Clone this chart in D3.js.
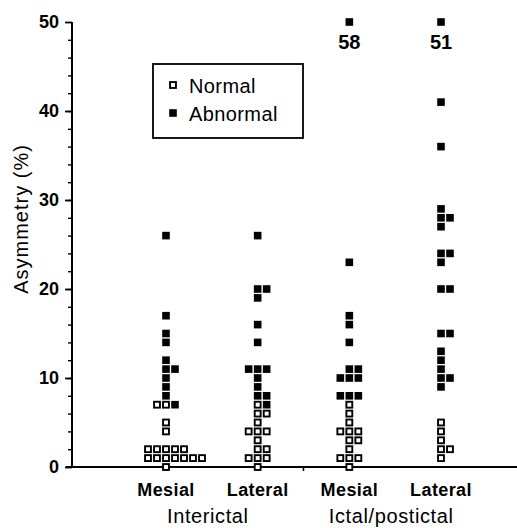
<!DOCTYPE html>
<html>
<head>
<meta charset="utf-8">
<script src="https://cdn.jsdelivr.net/npm/d3@7"></script>
<style>
  body { margin: 0; background: #fff; }
  svg { display: block; font-family: "Liberation Sans", Arial, sans-serif; }
</style>
</head>
<body>
<div id="chart"></div>
<script>
// Category labels along the x axis and the two groups under them
const categories = ["Mesial", "Lateral", "Mesial ", "Lateral "];
const groupNames = ["Interictal", "Ictal/postictal"];
const yTicks = [0, 10, 20, 30, 40, 50];

// Asymmetry (%) values, one array per column
const normalInterMesial = [7, 7, 5, 4, 2, 2, 2, 2, 2, 1, 1, 1, 1, 1, 1, 1, 0];
const abnormalInterMesial = [26, 17, 15, 14, 12, 11, 11, 10, 9, 8, 7];
const normalInterLateral = [7, 6, 6, 5, 4, 4, 4, 3, 2, 2, 1, 1, 1, 0];
const abnormalInterLateral = [26, 20, 20, 19, 16, 14, 11, 11, 11, 10, 9, 8, 8, 7];
const normalIctalMesial = [7, 6, 5, 4, 4, 4, 3, 3, 2, 1, 1, 1, 0];
const abnormalIctalMesial = [58, 23, 17, 16, 14, 11, 11, 10, 10, 10, 8, 8, 8];
const normalIctalLateral = [5, 4, 3, 2, 2, 1];
const abnormalIctalLateral = [51, 41, 36, 29, 28, 28, 27, 24, 24, 23, 20, 20, 15, 15, 13, 12, 11, 10, 10, 9];

const columns = [
  { cat: categories[0], normal: normalInterMesial, abnormal: abnormalInterMesial },
  { cat: categories[1], normal: normalInterLateral, abnormal: abnormalInterLateral },
  { cat: categories[2], normal: normalIctalMesial, abnormal: abnormalIctalMesial },
  { cat: categories[3], normal: normalIctalLateral, abnormal: abnormalIctalLateral },
];

const width = 517, height = 528;
const yMax = 50;

const svg = d3.select("#chart").append("svg")
  .attr("width", width)
  .attr("height", height);

const x = d3.scalePoint().domain(categories).range([166, 441]);
const y = d3.scaleLinear().domain([0, yMax]).range([467, 22]);
// side-by-side slot for squares sharing a value
const slot = d3.scaleLinear().domain([0, 1]).range([0, 9]);

// Build the dot layout: squares with the same value sit in a row, normals first
const points = [];
columns.forEach((col) => {
  const entries = col.normal.map((v) => ({ v, type: "normal" }))
    .concat(col.abnormal.map((v) => ({ v, type: "abnormal" })));
  const rows = d3.group(entries, (d) => d.v);
  rows.forEach((row) => {
    const n = row.length;
    const start = Math.max(-2, -Math.floor((n - 1) / 2));
    row.forEach((d, i) => {
      points.push({ cat: col.cat, v: d.v, type: d.type, offset: start + i });
    });
  });
});

// Axes
const yAxis = svg.append("g")
  .attr("transform", `translate(72,0)`)
  .call(d3.axisLeft(y).tickValues(yTicks).tickSize(7).tickPadding(6));
yAxis.select(".domain").remove();
yAxis.selectAll(".tick line").attr("stroke-width", 1.8);
yAxis.selectAll(".tick text")
  .attr("font-size", 18)
  .attr("font-weight", "bold")
  .attr("fill", "#000");

const minor = svg.append("g")
  .attr("transform", `translate(72,0)`)
  .call(d3.axisLeft(y).tickValues(d3.range(2, 50, 2)).tickSize(4).tickFormat(""));
minor.select(".domain").remove();
minor.selectAll(".tick line").attr("stroke-width", 1.4);

svg.append("line")
  .attr("x1", 72).attr("x2", 72)
  .attr("y1", y(yMax)).attr("y2", y(0))
  .attr("stroke", "#000").attr("stroke-width", 2);

svg.append("line")
  .attr("x1", 66).attr("x2", width)
  .attr("y1", y(0)).attr("y2", y(0))
  .attr("stroke", "#000").attr("stroke-width", 2);

// small divider tick between the two groups
const mid = (x(categories[1]) + x(categories[2])) / 2;
svg.append("line")
  .attr("x1", mid).attr("x2", mid)
  .attr("y1", y(0)).attr("y2", y(0) + 4)
  .attr("stroke", "#000").attr("stroke-width", 1.5);

svg.append("g")
  .selectAll("text")
  .data(categories)
  .enter()
  .append("text")
  .attr("x", (d) => x(d))
  .attr("y", 496)
  .attr("text-anchor", "middle")
  .attr("font-size", 18)
  .attr("font-weight", "bold")
  .attr("letter-spacing", 0.4)
  .text((d) => d.trim());

svg.append("g")
  .selectAll("text")
  .data(groupNames)
  .enter()
  .append("text")
  .attr("x", (d, i) => (x(categories[i * 2]) + x(categories[i * 2 + 1])) / 2 - 4)
  .attr("y", 523)
  .attr("text-anchor", "middle")
  .attr("font-size", 20)
  .attr("letter-spacing", 0.6)
  .text((d) => d);

svg.append("text")
  .attr("transform", `translate(28,219) rotate(-90)`)
  .attr("text-anchor", "middle")
  .attr("font-size", 20)
  .attr("letter-spacing", 1)
  .text("Asymmetry (%)");

// Squares
const size = 7.6;
const inset = 0.85;
svg.append("g")
  .selectAll("rect")
  .data(points)
  .enter()
  .append("rect")
  .attr("x", (d) => x(d.cat) + slot(d.offset) - size / 2 + (d.type === "normal" ? inset : 0))
  .attr("y", (d) => y(Math.min(d.v, yMax)) - size / 2 + (d.type === "normal" ? inset : 0))
  .attr("width", (d) => (d.type === "normal" ? size - 2 * inset : size))
  .attr("height", (d) => (d.type === "normal" ? size - 2 * inset : size))
  .attr("fill", (d) => (d.type === "normal" ? "#fff" : "#000"))
  .attr("stroke", (d) => (d.type === "normal" ? "#000" : "none"))
  .attr("stroke-width", 1.9);

// Off-scale values written under the capped squares
svg.append("g")
  .selectAll("text")
  .data(points.filter((d) => d.v > yMax))
  .enter()
  .append("text")
  .attr("x", (d) => x(d.cat) + slot(d.offset))
  .attr("y", y(yMax) + 27)
  .attr("text-anchor", "middle")
  .attr("font-size", 20)
  .attr("font-weight", "bold")
  .text((d) => d.v);

// Legend
const legend = svg.append("g");
legend.append("rect")
  .attr("x", 153).attr("y", 64)
  .attr("width", 150).attr("height", 74)
  .attr("fill", "none")
  .attr("stroke", "#000")
  .attr("stroke-width", 1.8);

const legendItems = [
  { label: "Normal", type: "normal" },
  { label: "Abnormal", type: "abnormal" },
];
const legendY = d3.scalePoint().domain(legendItems.map((d) => d.label)).range([85, 113]);

legend.selectAll(".legendMark")
  .data(legendItems)
  .enter()
  .append("rect")
  .attr("class", "legendMark")
  .attr("x", (d) => 173 - size / 2 + (d.type === "normal" ? inset : 0))
  .attr("y", (d) => legendY(d.label) - size / 2 + (d.type === "normal" ? inset : 0))
  .attr("width", (d) => (d.type === "normal" ? size - 2 * inset : size))
  .attr("height", (d) => (d.type === "normal" ? size - 2 * inset : size))
  .attr("fill", (d) => (d.type === "normal" ? "#fff" : "#000"))
  .attr("stroke", (d) => (d.type === "normal" ? "#000" : "none"))
  .attr("stroke-width", 1.9);

legend.selectAll(".legendText")
  .data(legendItems)
  .enter()
  .append("text")
  .attr("class", "legendText")
  .attr("x", 189)
  .attr("y", (d) => legendY(d.label) + 7.5)
  .attr("font-size", 20)
  .attr("letter-spacing", 0.4)
  .text((d) => d.label);
</script>
</body>
</html>
